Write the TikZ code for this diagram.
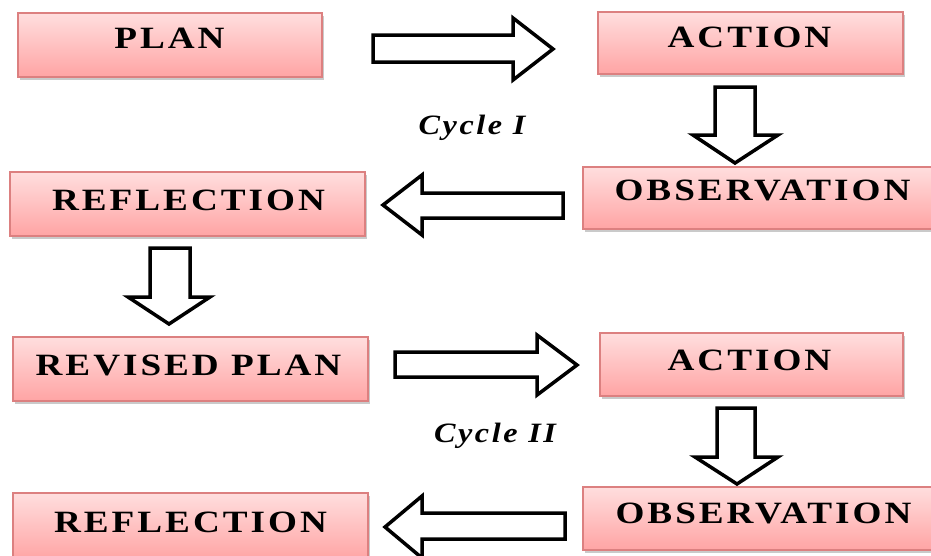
\documentclass[tikz,border=0pt]{standalone}
\usepackage{fontspec}
\usepackage{graphicx}
\setmainfont{Liberation Serif}
\newfontfamily\lblfont[LetterSpace=8]{Liberation Serif}
\newcommand\wide[1]{\scalebox{1.2}[1]{#1}}
\newcommand\widecyc[1]{\scalebox{1.15}[1]{#1}}
\usetikzlibrary{shadows}
\definecolor{boxtop}{RGB}{255,222,222}
\definecolor{boxbot}{RGB}{255,164,164}
\definecolor{boxedge}{RGB}{220,128,128}
\tikzset{
  stagebox/.style={rectangle, draw=boxedge, line width=1.3pt, top color=boxtop, bottom color=boxbot,
    inner sep=0pt, drop shadow={shadow xshift=2pt, shadow yshift=-3pt, opacity=0.35, fill=black!60}},
  stagetext/.style={anchor=base, inner sep=0pt, font=\fontsize{31}{33}\lblfont\bfseries},
  cyctext/.style={anchor=base, inner sep=0pt, font=\fontsize{28}{30}\lblfont\bfseries\itshape},
  blockarrow/.style={draw=black, line width=3.5pt, fill=white, line join=miter, miter limit=10}
}
\begin{document}
\begin{tikzpicture}[x=1pt,y=-1pt]
\useasboundingbox (0,0) rectangle (931,555);
\clip (0,0) rectangle (931,555);
% boxes
\node[stagebox, minimum width=304pt, minimum height=64pt] (plan) at (170,45) {};
\node[stagebox, minimum width=305pt, minimum height=62pt] (act1) at (750.5,43) {};
\node[stagebox, minimum width=362pt, minimum height=62pt] (obs1) at (764,198) {};
\node[stagebox, minimum width=355pt, minimum height=64pt] (ref1) at (187.5,204) {};
\node[stagebox, minimum width=355pt, minimum height=64pt] (rev) at (190.5,369) {};
\node[stagebox, minimum width=303pt, minimum height=63pt] (act2) at (751.5,364.5) {};
\node[stagebox, minimum width=362pt, minimum height=63pt] (obs2) at (764,518.5) {};
\node[stagebox, minimum width=355pt, minimum height=67pt] (ref2) at (190.5,526.5) {};
% texts
\node[stagetext] (tplan) at (169.5,48) {\wide{PLAN}};
\node[stagetext] (tact1) at (749.5,47) {\wide{ACTION}};
\node[stagetext] (tobs1) at (762.5,200) {\wide{OBSERVATION}};
\node[stagetext] (tref1) at (188.5,210) {\wide{REFLECTION}};
\node[stagetext] (trev) at (188.5,375) {\wide{REVISED PLAN}};
\node[stagetext] (tact2) at (749.5,370) {\wide{ACTION}};
\node[stagetext] (tobs2) at (763.5,523) {\wide{OBSERVATION}};
\node[stagetext] (tref2) at (190.5,532) {\wide{REFLECTION}};
\node[cyctext] (cyc1) at (472,134) {\widecyc{Cycle I}};
\node[cyctext] (cyc2) at (495,442) {\widecyc{Cycle II}};
% block arrows
\draw[blockarrow] (373,35) -- (513,35) -- (513,18) -- (553,49) -- (513,80) -- (513,62) -- (373,62) -- cycle;
\draw[blockarrow] (715,87) -- (755,87) -- (755,135) -- (778,135) -- (735,163) -- (693,135) -- (715,135) -- cycle;
\draw[blockarrow] (563,193) -- (422,193) -- (422,175) -- (383,205) -- (422,235) -- (422,218) -- (563,218) -- cycle;
\draw[blockarrow] (150,248) -- (190,248) -- (190,297) -- (210,297) -- (169,324) -- (128,297) -- (150,297) -- cycle;
\draw[blockarrow] (395,352) -- (537,352) -- (537,335) -- (577,365) -- (537,395) -- (537,377) -- (395,377) -- cycle;
\draw[blockarrow] (717,408) -- (755,408) -- (755,457) -- (778,457) -- (737,484) -- (695,457) -- (717,457) -- cycle;
\draw[blockarrow] (565,513) -- (422,513) -- (422,496) -- (385,527) -- (422,558) -- (422,539) -- (565,539) -- cycle;
\end{tikzpicture}
\end{document}
